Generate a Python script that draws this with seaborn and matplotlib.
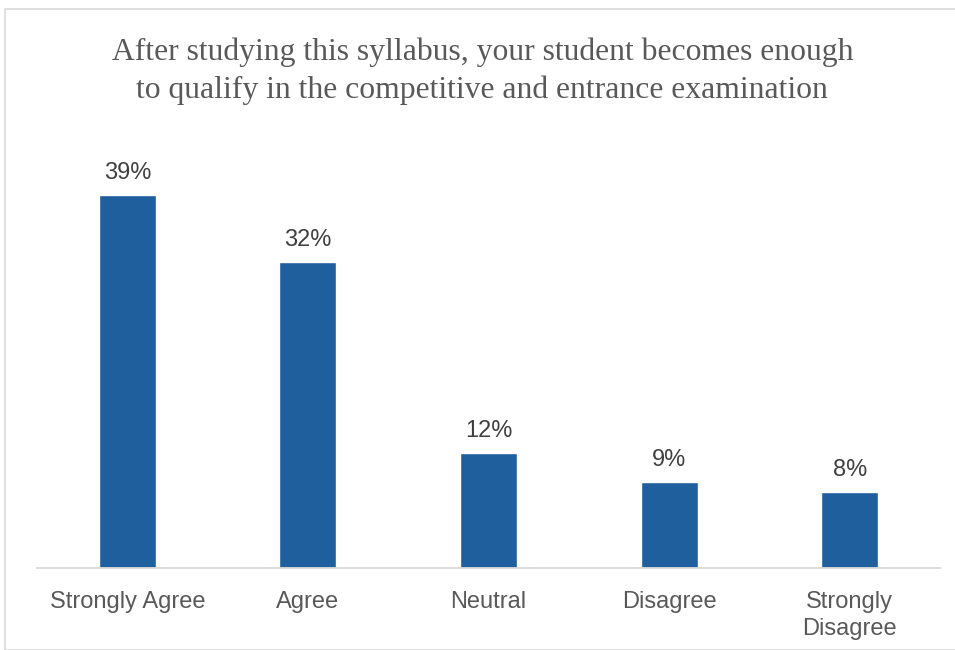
import matplotlib
matplotlib.use("Agg")
import matplotlib.pyplot as plt
import seaborn as sns
import pandas as pd
from matplotlib.patches import Rectangle

categories = ["Strongly Agree", "Agree", "Neutral", "Disagree", "Strongly\nDisagree"]
values = [39, 32, 12, 9, 8]
labels = ["39%", "32%", "12%", "9%", "8%"]
title = "After studying this syllabus, your student becomes enough\nto qualify in the competitive and entrance examination"

sns.set_theme(style="white")
plt.rcParams["font.family"] = ["Liberation Sans", "DejaVu Sans"]

W, H = 955, 650
fig = plt.figure(figsize=(W / 100, H / 100), dpi=100)
fig.patch.set_facecolor("white")

# chart border
fig.patches.append(Rectangle((5 / W, 0), 1.2, 1 - 9 / H, transform=fig.transFigure,
                             fill=False, edgecolor="#D9D9D9", linewidth=1.2, zorder=0))

ax = fig.add_axes([37 / W, 1 - 568 / H, 903 / W, 430 / H])
df = pd.DataFrame({"cat": categories, "val": values})
sns.barplot(data=df, x="cat", y="val", color="#1F5F9E", saturation=1, width=0.316, ax=ax)
ax.set_ylim(0, 45)
ax.set_xlim(-0.5, 4.5)
for s in ["top", "right", "left"]:
    ax.spines[s].set_visible(False)
ax.spines["bottom"].set_color("#D9D9D9")
ax.spines["bottom"].set_linewidth(1.3)
ax.set_yticks([])
ax.set_xlabel("")
ax.set_ylabel("")
ax.tick_params(axis="x", length=0, pad=16.5, labelsize=17, labelcolor="#595959")
for lbl in ax.get_xticklabels():
    lbl.set_linespacing(1.3)

for i, (v, t) in enumerate(zip(values, labels)):
    ax.annotate(t, (i, v), xytext=(0, 11.5), textcoords="offset points",
                ha="center", va="baseline", fontsize=17, color="#404040")

fig.text(0.505, 1 - 71 / H, title, ha="center", va="center", fontsize=22.8,
         family=["Liberation Serif", "DejaVu Serif"], color="#595959", linespacing=1.36)

fig.savefig("out.png", dpi=100, facecolor="white")
